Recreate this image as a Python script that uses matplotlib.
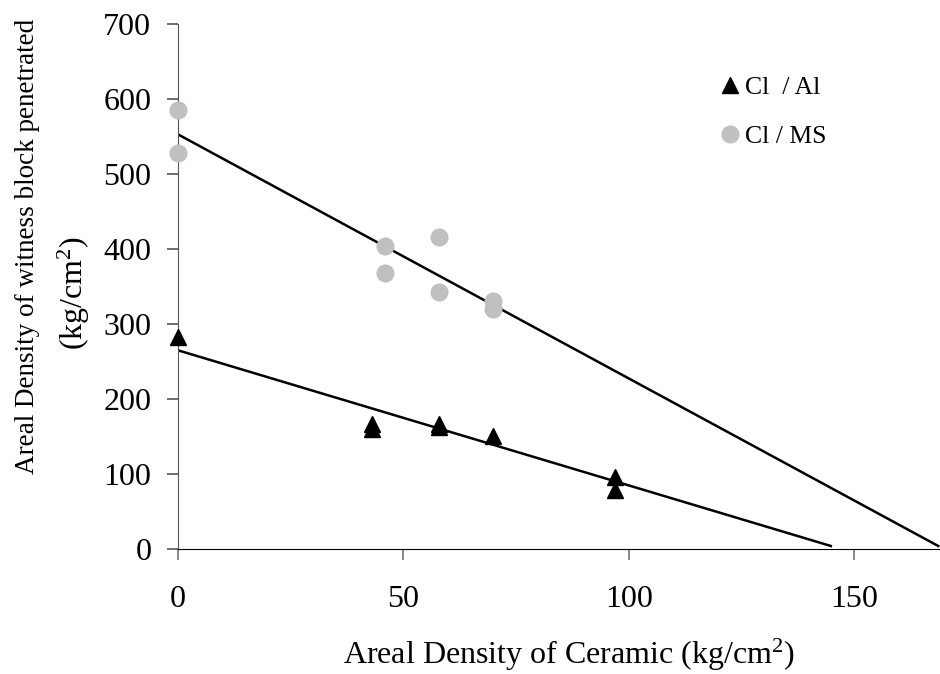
import matplotlib.pyplot as plt

plt.rcParams['font.family'] = ['Liberation Serif', 'DejaVu Serif']
plt.rcParams['mathtext.fontset'] = 'custom'
plt.rcParams['mathtext.rm'] = 'Liberation Serif'
plt.rcParams['mathtext.it'] = 'Liberation Serif:italic'

# Cl / Al (triangles)
al_x = [0, 43, 43, 58, 58, 70, 97, 97]
al_y = [282, 167, 160, 166, 162, 150, 96, 78]

# Cl / MS (grey circles)
ms_x = [0, 0, 46, 46, 58, 58, 70, 70]
ms_y = [585, 528, 404, 368, 416, 342, 330, 320]

# trend lines (end points)
al_fit_x = [0, 144.8]
al_fit_y = [265, 4]
ms_fit_x = [0, 168.6]
ms_fit_y = [553, 4]

x_ticks = [0, 50, 100, 150]
y_ticks = [0, 100, 200, 300, 400, 500, 600, 700]

fig = plt.figure(figsize=(9.4, 6.74), dpi=100)
ax = fig.add_axes([0.189, 0.1855, 0.811, 0.779])

ax.plot(ms_fit_x, ms_fit_y, color='black', lw=1.8, zorder=2)
ax.plot(al_fit_x, al_fit_y, color='black', lw=1.8, zorder=2)
ax.plot(al_x, al_y, linestyle='none', marker='^', color='black',
        markersize=12, label='Cl  / Al', zorder=3, clip_on=False)
ax.plot(ms_x, ms_y, linestyle='none', marker='o', color='#c0c0c0',
        markersize=12, label='Cl / MS', zorder=3, clip_on=False)

ax.set_xlim(0, 169)
ax.set_ylim(0, 700)
ax.set_xticks(x_ticks)
ax.set_yticks(y_ticks)
ax.spines['top'].set_visible(False)
ax.spines['right'].set_visible(False)
ax.spines['left'].set_color('#555555')
ax.spines['bottom'].set_color('black')
ax.tick_params(axis='x', direction='out', length=8, width=1.2, color='#777777',
               pad=18, labelsize=23)
ax.tick_params(axis='y', direction='out', length=8, width=1.2, color='#555555',
               pad=11, labelsize=23)

leg = ax.legend(loc='upper left', bbox_to_anchor=(0.684, 0.944), frameon=False,
                fontsize=18.5, handlelength=0.6, handletextpad=0.3,
                labelspacing=0.98, numpoints=1)

fig.text(0.605, 0.015, 'Areal Density of Ceramic (kg/cm$^2$)', ha='center',
         va='baseline', fontsize=23)
fig.text(0.029, 0.635, 'Areal Density of witness block penetrated', rotation=90,
         ha='center', va='center', fontsize=19.5)
fig.text(0.079, 0.565, '(kg/cm$^2$)', rotation=90, ha='center', va='center',
         fontsize=23)

plt.savefig('out.png', dpi=100)
